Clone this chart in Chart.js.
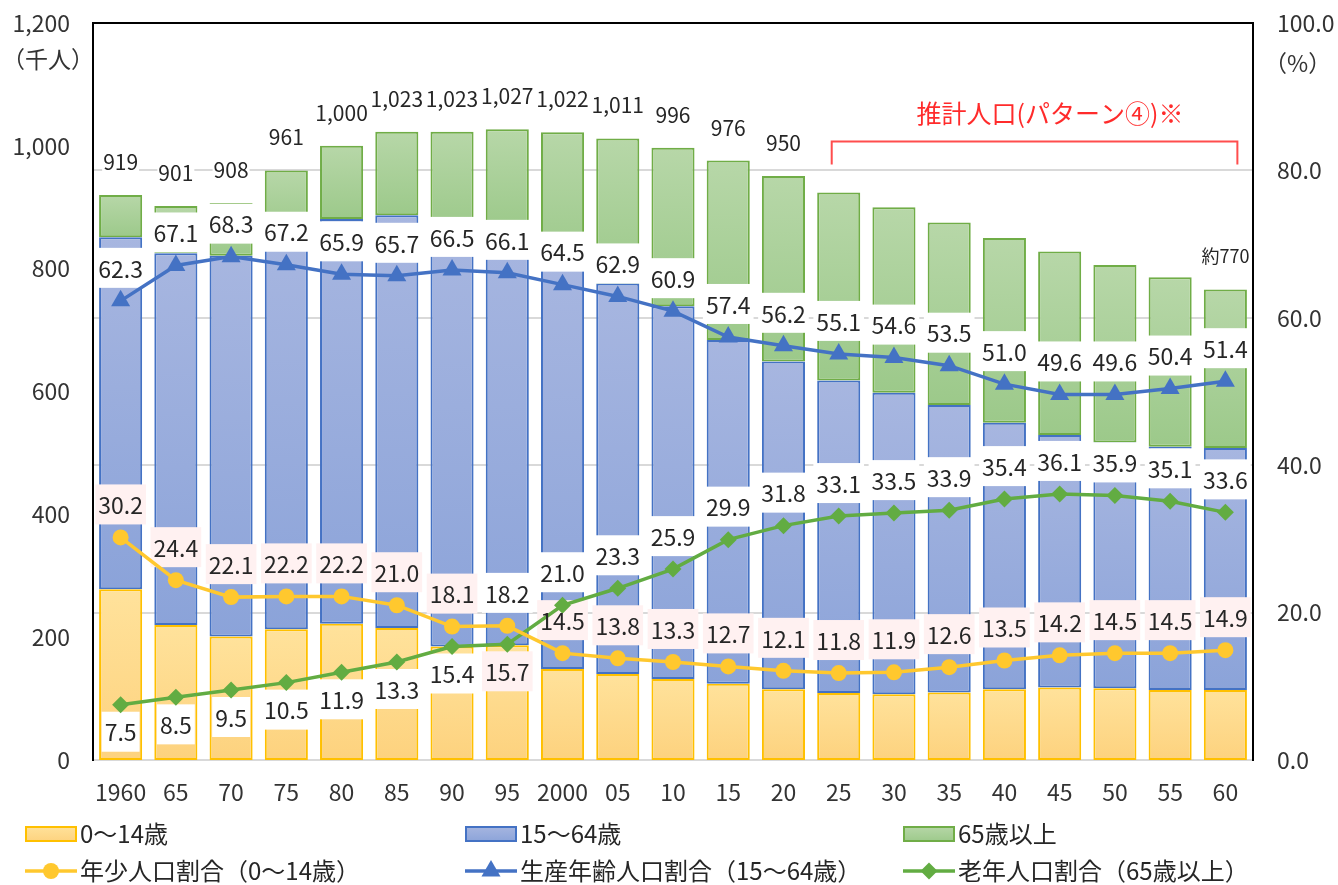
<!DOCTYPE html>
<html lang="ja">
<head>
<meta charset="utf-8">
<title>人口の推移</title>
<script src="https://cdn.jsdelivr.net/npm/chart.js@4.4.1/dist/chart.umd.min.js"></script>
<style>
  html, body { margin: 0; padding: 0; background: #fff; }
  #wrap { position: relative; width: 1338px; height: 885px; }
</style>
</head>
<body>
<div id="wrap"><canvas id="popchart"></canvas></div>
<script>
// 年次ラベル
const years = ['1960', '65', '70', '75', '80', '85', '90', '95', '2000', '05', '10',
  '15', '20', '25', '30', '35', '40', '45', '50', '55', '60'];

// 年齢3区分別人口（千人）
const young = [278, 220, 201, 213, 222, 215, 185, 187, 148, 140, 132, 124, 115, 109, 107, 110, 115, 118, 117, 114, 114];
const working = [573, 605, 620, 646, 659, 672, 680, 679, 659, 636, 607, 560, 534, 509, 491, 468, 434, 411, 400, 396, 394];
const elderly = [69, 77, 86, 101, 119, 136, 158, 161, 215, 236, 258, 292, 302, 306, 302, 297, 301, 299, 289, 276, 258];

// 総人口ラベル（推計期間は2060年のみ表示）
const totalLabels = ['919', '901', '908', '961', '1,000', '1,023', '1,023', '1,027', '1,022', '1,011', '996',
  '976', '950', '', '', '', '', '', '', '', '約770'];

// 割合（%）
const youngPct = [30.2, 24.4, 22.1, 22.2, 22.2, 21.0, 18.1, 18.2, 14.5, 13.8, 13.3, 12.7, 12.1, 11.8, 11.9, 12.6, 13.5, 14.2, 14.5, 14.5, 14.9];
const workPct = [62.3, 67.1, 68.3, 67.2, 65.9, 65.7, 66.5, 66.1, 64.5, 62.9, 60.9, 57.4, 56.2, 55.1, 54.6, 53.5, 51.0, 49.6, 49.6, 50.4, 51.4];
const oldPct = [7.5, 8.5, 9.5, 10.5, 11.9, 13.3, 15.4, 15.7, 21.0, 23.3, 25.9, 29.9, 31.8, 33.1, 33.5, 33.9, 35.4, 36.1, 35.9, 35.1, 33.6];

const estimateFrom = '25';   // 推計人口の開始
const swappedBg = ['95'];    // ラベル背景が入れ替わっている年

const ageGroups = [young, working, elderly];
const FONT = "'Noto Sans CJK JP', 'Noto Sans', sans-serif";
Chart.defaults.font.family = FONT;
Chart.defaults.color = '#333';

const YEL = '#FFC82E', BLU = '#4472C4', GRN = '#62AC42';
const PINK_BG = '#FFF1F1';

function stackGradient(k, topColor, bottomColor) {
  return function (c) {
    const chart = c.chart;
    const y = chart.scales.y;
    if (c.type !== 'data' || !y || !chart.chartArea) return bottomColor;
    const i = c.dataIndex;
    let base = 0;
    for (let j = 0; j < k; j++) base += ageGroups[j][i];
    const top = base + ageGroups[k][i];
    const g = chart.ctx.createLinearGradient(0, y.getPixelForValue(top), 0, y.getPixelForValue(base));
    g.addColorStop(0, topColor);
    g.addColorStop(1, bottomColor);
    return g;
  };
}

function pctLabels(chart) {
  const out = [];
  const series = [
    { data: youngPct, ds: 0, bg: PINK_BG },
    { data: workPct, ds: 1, bg: '#fff' },
    { data: oldPct, ds: 2, bg: '#fff' }
  ];
  series.forEach((s, n) => {
    const meta = chart.getDatasetMeta(s.ds);
    s.data.forEach((v, i) => {
      const pt = meta.data[i];
      const below = n === 2 && oldPct[i] < youngPct[i];
      let bg = s.bg;
      if (swappedBg.includes(years[i]) && n !== 1) bg = (n === 0) ? '#fff' : PINK_BG;
      out.push({ text: v.toFixed(1), x: pt.x, y: below ? pt.y + 27 : pt.y - 33, bg: bg });
    });
  });
  return out;
}

function drawMarker(ctx, style, x, y, r, color) {
  ctx.fillStyle = color;
  ctx.beginPath();
  if (style === 'circle') {
    ctx.arc(x, y, r, 0, Math.PI * 2);
  } else if (style === 'triangle') {
    ctx.moveTo(x, y - r);
    ctx.lineTo(x + r * 0.866, y + r * 0.5);
    ctx.lineTo(x - r * 0.866, y + r * 0.5);
  } else {
    ctx.moveTo(x, y - r); ctx.lineTo(x + r, y); ctx.lineTo(x, y + r); ctx.lineTo(x - r, y);
  }
  ctx.closePath();
  ctx.fill();
}

const legendItems = [
  { kind: 'box', text: '0～14歳', top: '#FFE29B', bottom: '#FDD27E', border: '#FFC000' },
  { kind: 'box', text: '15～64歳', top: '#A7B6E0', bottom: '#8BA3D9', border: BLU },
  { kind: 'box', text: '65歳以上', top: '#B7D7A8', bottom: '#9CC98A', border: '#70AD47' },
  { kind: 'line', text: '年少人口割合（0～14歳）', color: YEL, style: 'circle', r: 8 },
  { kind: 'line', text: '生産年齢人口割合（15～64歳）', color: BLU, style: 'triangle', r: 11 },
  { kind: 'line', text: '老年人口割合（65歳以上）', color: GRN, style: 'diamond', r: 8.5 }
];

const decorPlugin = {
  id: 'decor',
  afterDatasetDraw(chart, args) {
    // 最後に描かれる棒（0～14歳）のあと、折れ線の前にラベルの背景を描く
    if (args.index !== 3) return;
    const ctx = chart.ctx;
    ctx.save();
    ctx.font = '23px ' + FONT;
    pctLabels(chart).forEach(l => {
      const w = ctx.measureText(l.text).width + 6;
      ctx.fillStyle = l.bg;
      ctx.fillRect(l.x - w / 2, l.y - 20, w, 40);
    });
    ctx.restore();
  },
  afterDatasetsDraw(chart) {
    const ctx = chart.ctx;
    const x = chart.scales.x, y = chart.scales.y;
    ctx.save();
    ctx.textAlign = 'center';
    ctx.textBaseline = 'middle';
    ctx.fillStyle = '#262626';
    ctx.font = '23px ' + FONT;
    pctLabels(chart).forEach(l => ctx.fillText(l.text, l.x, l.y + 1));

    // 総人口
    totalLabels.forEach((t, i) => {
      if (!t) return;
      const sum = young[i] + working[i] + elderly[i];
      const px = x.getPixelForValue(i);
      const py = y.getPixelForValue(sum) - 33;
      ctx.font = (t.startsWith('約') ? '18px ' : '21px ') + FONT;
      const w = ctx.measureText(t).width + 2;
      ctx.fillStyle = '#fff';
      ctx.fillRect(px - w / 2, py - 12, w, 24);
    });
    ctx.fillStyle = '#262626';
    totalLabels.forEach((t, i) => {
      if (!t) return;
      const sum = young[i] + working[i] + elderly[i];
      ctx.font = (t.startsWith('約') ? '18px ' : '21px ') + FONT;
      ctx.fillText(t, x.getPixelForValue(i), y.getPixelForValue(sum) - 33);
    });
    ctx.restore();
  },
  afterDraw(chart) {
    const ctx = chart.ctx;
    const area = chart.chartArea;
    const x = chart.scales.x, y = chart.scales.y;
    ctx.save();

    // 上枠
    ctx.strokeStyle = '#000';
    ctx.lineWidth = 2;
    ctx.beginPath();
    ctx.moveTo(area.left - 1, area.top);
    ctx.lineTo(area.right + 1, area.top);
    ctx.stroke();

    // 軸タイトル
    ctx.fillStyle = '#333';
    ctx.font = '23px ' + FONT;
    ctx.textAlign = 'left';
    ctx.textBaseline = 'middle';
    ctx.fillText('（千人）', 2, 59);
    ctx.fillText('（%）', 1264, 63);

    // 推計人口の括弧
    const x0 = x.getPixelForValue(years.indexOf(estimateFrom)) - 7;
    const x1 = x.getPixelForValue(years.length - 1) + 12;
    const yb = y.getPixelForValue(1007);
    ctx.strokeStyle = '#FF4D4D';
    ctx.lineWidth = 2;
    ctx.beginPath();
    ctx.moveTo(x0, yb + 23); ctx.lineTo(x0, yb); ctx.lineTo(x1, yb); ctx.lineTo(x1, yb + 23);
    ctx.stroke();
    ctx.fillStyle = '#FF2B2B';
    ctx.font = '25px ' + FONT;
    ctx.textAlign = 'center';
    ctx.fillText('推計人口(パターン④)※', 1050, yb - 28);

    // 凡例
    const cols = [25, 465, 903];
    const rows = [834, 871];
    ctx.font = '24px ' + FONT;
    ctx.textAlign = 'left';
    legendItems.forEach((it, n) => {
      const lx = cols[n % 3], ly = rows[Math.floor(n / 3)];
      if (it.kind === 'box') {
        const g = ctx.createLinearGradient(0, ly - 8, 0, ly + 8);
        g.addColorStop(0, it.top);
        g.addColorStop(1, it.bottom);
        ctx.fillStyle = g;
        ctx.fillRect(lx, ly - 8, 52, 16);
        ctx.strokeStyle = it.border;
        ctx.lineWidth = 2;
        ctx.strokeRect(lx + 1, ly - 7, 50, 14);
      } else {
        ctx.strokeStyle = it.color;
        ctx.lineWidth = 3.5;
        ctx.beginPath();
        ctx.moveTo(lx, ly); ctx.lineTo(lx + 52, ly);
        ctx.stroke();
        drawMarker(ctx, it.style, lx + 26, ly, it.r, it.color);
      }
      ctx.fillStyle = '#262626';
      ctx.fillText(it.text, lx + 55, ly);
    });
    ctx.restore();
  }
};

// 縦軸のラベル余白が上端を押し下げないようにする
function fixWidth(w) {
  return function (s) {
    s.width = w;
    s.paddingTop = 0;
    s.paddingBottom = 0;
  };
}

const ctx = document.getElementById('popchart');

new Chart(ctx, {
  type: 'bar',
  data: {
    labels: years,
    datasets: [
      { type: 'line', label: '年少人口割合（0～14歳）', data: youngPct, yAxisID: 'y1',
        borderColor: YEL, backgroundColor: YEL, borderWidth: 3.5,
        pointStyle: 'circle', pointRadius: 8, pointBorderWidth: 0 },
      { type: 'line', label: '生産年齢人口割合（15～64歳）', data: workPct, yAxisID: 'y1',
        borderColor: BLU, backgroundColor: BLU, borderWidth: 3.5,
        pointStyle: 'triangle', pointRadius: 11, pointBorderWidth: 0 },
      { type: 'line', label: '老年人口割合（65歳以上）', data: oldPct, yAxisID: 'y1',
        borderColor: GRN, backgroundColor: GRN, borderWidth: 3.5,
        pointStyle: 'rectRot', pointRadius: 8.5, pointBorderWidth: 0 },
      { label: '0～14歳', data: young, yAxisID: 'y', stack: 'pop',
        backgroundColor: stackGradient(0, '#FFE29B', '#FDD27E'),
        borderColor: '#FFC000', borderWidth: 2, borderSkipped: false },
      { label: '15～64歳', data: working, yAxisID: 'y', stack: 'pop',
        backgroundColor: stackGradient(1, '#A7B6E0', '#8BA3D9'),
        borderColor: BLU, borderWidth: 2, borderSkipped: false },
      { label: '65歳以上', data: elderly, yAxisID: 'y', stack: 'pop',
        backgroundColor: stackGradient(2, '#B7D7A8', '#9CC98A'),
        borderColor: '#70AD47', borderWidth: 2, borderSkipped: false }
    ]
  },
  options: {
    responsive: true,
    maintainAspectRatio: false,
    animation: false,
    layout: { padding: { top: 23, bottom: 0, left: 0, right: 0 } },
    datasets: { bar: { categoryPercentage: 1, barPercentage: 0.78 } },
    plugins: { legend: { display: false }, tooltip: { enabled: false } },
    scales: {
      x: {
        stacked: true,
        grid: { display: false },
        border: { color: '#D9D9D9', width: 2 },
        ticks: { font: { size: 23 }, padding: 10, maxRotation: 0, autoSkip: false, color: '#333' },
        afterFit(s) { s.height = 125; }
      },
      y: {
        stacked: true, min: 0, max: 1200,
        grid: { display: false, drawTicks: false },
        border: { color: '#000', width: 2 },
        ticks: { stepSize: 200, padding: 23, font: { size: 23 }, color: '#333',
          callback: v => v.toLocaleString('en-US') },
        afterFit: fixWidth(93)
      },
      y1: {
        position: 'right', min: 0, max: 100,
        grid: { color: '#D9D9D9', lineWidth: 2, drawTicks: false },
        border: { color: '#000', width: 2 },
        ticks: { stepSize: 20, padding: 24, font: { size: 23 }, color: '#333',
          callback: v => v.toFixed(1) },
        afterFit: fixWidth(85)
      }
    }
  },
  plugins: [decorPlugin]
});
</script>
</body>
</html>
